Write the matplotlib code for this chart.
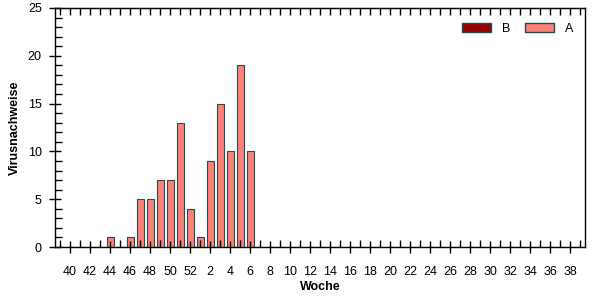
import matplotlib
matplotlib.use("Agg")
import matplotlib.pyplot as plt
from matplotlib.patches import Patch

# calendar weeks 39..52 then 1..39
weeks = list(range(39, 53)) + list(range(1, 40))
counts_a = [0, 0, 0, 0, 0, 1, 0, 1, 5, 5, 7, 7, 13, 4,
            1, 9, 15, 10, 19, 10] + [0] * 33
counts_b = [0] * len(weeks)

plt.rcParams['font.family'] = ['Liberation Sans', 'DejaVu Sans']
plt.rcParams['font.size'] = 9

fig = plt.figure(figsize=(6.02, 3.0), dpi=100)
ax = fig.add_axes([55 / 602, 1 - 247 / 300, 530 / 602, 239 / 300])

x = list(range(len(weeks)))
ax.bar(x, counts_b, width=0.7, color='#990000', edgecolor='#1f4f4f', linewidth=0.8)
ax.bar(x, counts_a, width=0.7, bottom=counts_b, color='#ff8078',
       edgecolor='#1f4f4f', linewidth=0.8)

ax.set_xlim(-0.5, len(weeks) - 0.5)
ax.set_ylim(0, 25)

ax.set_xticks(x[1::2])
ax.set_xticklabels([str(w) for w in weeks[1::2]])
ax.set_xticks(x[0::2], minor=True)
ax.set_yticks(range(0, 26, 5))
ax.set_yticks(range(0, 26), minor=True)

ax.tick_params(axis='both', which='major', direction='inout', length=9, width=1,
               labelsize=9)
ax.tick_params(axis='both', which='minor', direction='in', length=5, width=1)
ax.tick_params(axis='x', which='major', pad=9)
ax.tick_params(axis='y', which='major', pad=5)

# short inward ticks along the top edge
top = ax.secondary_xaxis('top')
top.set_xticks(x)
top.tick_params(direction='in', length=5, width=1, labeltop=False)
top.set_xticklabels([])

for s in ax.spines.values():
    s.set_linewidth(1)

ax.set_xlabel('Woche', fontweight='bold', fontsize=9, labelpad=2)
ax.set_ylabel('Virusnachweise', fontweight='bold', fontsize=9, labelpad=5)

handles = [Patch(facecolor='#990000', edgecolor='#1f4f4f'),
           Patch(facecolor='#ff8078', edgecolor='#1f4f4f')]
ax.legend(handles, ['B', 'A'], ncol=2, frameon=False, loc='upper right',
          bbox_to_anchor=(1.0, 0.985), handlelength=2.3, handleheight=0.7,
          handletextpad=0.9, columnspacing=1.2, fontsize=9)

fig.savefig('out.png', dpi=100)
